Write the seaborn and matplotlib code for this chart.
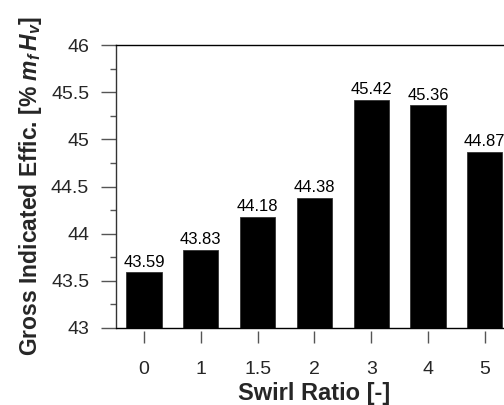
import matplotlib
matplotlib.use("Agg")
import matplotlib.pyplot as plt
from matplotlib.ticker import MultipleLocator
import seaborn as sns
import pandas as pd

swirl_ratio = ["0", "1", "1.5", "2", "3", "4", "5"]
efficiency = [43.59, 43.83, 44.18, 44.38, 45.42, 45.36, 44.87]

sns.set_style("ticks")
plt.rcParams["font.family"] = ["Liberation Sans", "DejaVu Sans"]
plt.rcParams["mathtext.fontset"] = "custom"
plt.rcParams["mathtext.it"] = "Liberation Sans:italic:bold"
plt.rcParams["mathtext.rm"] = "Liberation Sans:bold"

df = pd.DataFrame({"swirl": swirl_ratio, "eff": efficiency})

fig = plt.figure(figsize=(5.04, 4.05), dpi=100)
ax = fig.add_axes([115.6 / 504, 77 / 405, 397.6 / 504, 283 / 405])

sns.barplot(data=df, x="swirl", y="eff", order=swirl_ratio, color="black",
            width=0.62, saturation=1, edgecolor="#333333", linewidth=0.6, ax=ax)

ax.set_xlim(-0.5, 6.5)
ax.set_ylim(43, 46)
ax.yaxis.set_minor_locator(MultipleLocator(0.25))
ax.set_yticks([43, 43.5, 44, 44.5, 45, 45.5, 46])
ax.set_yticklabels(["43", "43.5", "44", "44.5", "45", "45.5", "46"])

for i, v in enumerate(efficiency):
    ax.text(i, v + 0.025, f"{v:.2f}", ha="center", va="bottom", fontsize=12,
            color="black", clip_on=False)

for side in ["top", "left", "bottom"]:
    ax.spines[side].set_visible(True)
    ax.spines[side].set_linewidth(1.0)
ax.spines["top"].set_color("black")
ax.spines["left"].set_color("#333333")
ax.spines["right"].set_visible(False)
ax.spines["bottom"].set_visible(False)
ax.axhline(43, color="black", lw=1.0, zorder=5, clip_on=False)

ax.tick_params(axis="y", which="major", direction="out", length=11, width=1,
               color="#555555", labelsize=14, pad=8)
ax.tick_params(axis="y", which="minor", direction="out", length=4.5, width=1,
               color="#555555")
ax.tick_params(axis="x", which="major", direction="out", length=8.5, width=1,
               color="#555555", labelsize=14, pad=13)
ax.spines["bottom"].set_position(("outward", 2))

ax.set_xlabel("Swirl Ratio [-]", fontsize=17, fontweight="bold", labelpad=3)
ax.set_ylabel(r"Gross Indicated Effic. [% $m_f\,H_v$]", fontsize=16.5,
              fontweight="bold", labelpad=5)

fig.savefig("out.png", dpi=100)
